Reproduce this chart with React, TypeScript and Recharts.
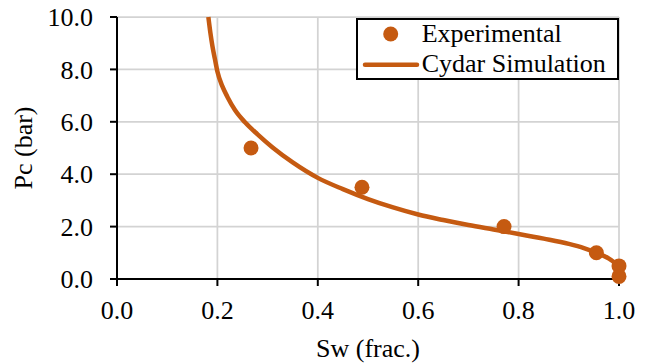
import React from 'react';
import {
  ComposedChart,
  Line,
  Scatter,
  XAxis,
  YAxis,
  CartesianGrid,
  Legend,
} from 'recharts';

const expSw = [0.267, 0.488, 0.771, 0.955, 1.0, 1.0];
const expPc = [5.0, 3.5, 2.0, 1.0, 0.5, 0.1];

const simSw = [
  0.182, 0.186, 0.19, 0.195, 0.2, 0.21, 0.22, 0.235, 0.255, 0.28, 0.31, 0.35, 0.4, 0.45,
  0.5, 0.55, 0.6, 0.65, 0.7, 0.75, 0.8, 0.85, 0.9, 0.93, 0.955, 0.98, 1.0,
];
const simPc = [
  10, 9.4, 8.9, 8.4, 7.92, 7.35, 6.95, 6.45, 5.98, 5.52, 5.02, 4.45, 3.86, 3.43,
  3.05, 2.73, 2.46, 2.25, 2.06, 1.89, 1.72, 1.54, 1.34, 1.18, 1.0, 0.78, 0.5,
];

const xTicks = [0, 0.2, 0.4, 0.6, 0.8, 1.0];
const yTicks = [0, 2, 4, 6, 8, 10];

const expData = expSw.map((sw, i) => ({ sw, pc: expPc[i] }));
const simData = simSw.map((sw, i) => ({ sw, pc: simPc[i] }));

const COLOR = '#C55A11';
const FONT = '"Liberation Serif", "Times New Roman", serif';
const FS = 26;

const Dot = (props: any) => {
  const { cx, cy } = props;
  if (cx == null || cy == null) return null;
  return <circle cx={cx} cy={cy} r={7.5} fill={COLOR} />;
};

const renderLegend = () => (
  <svg width={263} height={62} style={{ display: 'block' }}>
    <rect x={1} y={1} width={261} height={60} fill="#fff" stroke="#000" strokeWidth={2} />
    <circle cx={34.7} cy={16} r={7.5} fill={COLOR} />
    <text x={65.7} y={23.7} fontFamily={FONT} fontSize={FS} fill="#000">Experimental</text>
    <line x1={9} y1={46.7} x2={61} y2={46.7} stroke={COLOR} strokeWidth={4.5} strokeLinecap="round" />
    <text x={65.7} y={53.7} fontFamily={FONT} fontSize={FS} fill="#000">Cydar Simulation</text>
  </svg>
);

export default function App() {
  return (
    <div style={{ position: 'absolute', left: 0, top: 0, width: 651, height: 363, background: '#fff' }}>
      <ComposedChart
        width={651}
        height={363}
        margin={{ top: 17, right: 32, bottom: 0, left: 0 }}
      >
        <CartesianGrid stroke="#D3D3D3" strokeWidth={1.75} horizontal vertical />
        <XAxis
          dataKey="sw"
          type="number"
          domain={[0, 1]}
          ticks={xTicks}
          tickFormatter={(v: number) => v.toFixed(1)}
          height={84}
          tickSize={7}
          tickMargin={15}
          stroke="#000"
          strokeWidth={2}
          tick={{ fill: '#000', fontSize: FS, fontFamily: FONT }}
          label={{
            content: (p: any) => {
              const vb = p.viewBox || {};
              return (
                <text
                  x={(vb.x ?? 117) + (vb.width ?? 502) / 2}
                  y={357}
                  textAnchor="middle"
                  fontFamily={FONT}
                  fontSize={FS}
                  fill="#000"
                >
                  Sw (frac.)
                </text>
              );
            },
          }}
        />
        <XAxis
          xAxisId="top"
          orientation="top"
          type="number"
          domain={[0, 1]}
          height={0}
          tick={false}
          tickLine={false}
          stroke="#000"
          strokeWidth={2}
        />
        <YAxis
          dataKey="pc"
          type="number"
          domain={[0, 10]}
          ticks={yTicks}
          tickFormatter={(v: number) => v.toFixed(1)}
          width={117}
          tickSize={7}
          tickMargin={17}
          stroke="#000"
          strokeWidth={2}
          tick={{ fill: '#000', fontSize: FS, fontFamily: FONT }}
          label={{
            content: (p: any) => {
              const vb = p.viewBox || {};
              const cy = (vb.y ?? 17) + (vb.height ?? 262) / 2;
              return (
                <text
                  x={32}
                  y={cy}
                  transform={`rotate(-90, 32, ${cy})`}
                  textAnchor="middle"
                  fontFamily={FONT}
                  fontSize={FS}
                  fill="#000"
                >
                  Pc (bar)
                </text>
              );
            },
          }}
        />
        <YAxis
          yAxisId="right"
          orientation="right"
          type="number"
          domain={[0, 10]}
          width={0}
          tick={false}
          tickLine={false}
          stroke="#000"
          strokeWidth={2}
        />
        <Line
          data={simData}
          dataKey="pc"
          type="monotone"
          stroke={COLOR}
          strokeWidth={4.5}
          dot={false}
          activeDot={false}
          isAnimationActive={false}
        />
        <Scatter
          data={expData}
          dataKey="pc"
          fill={COLOR}
          shape={Dot}
          isAnimationActive={false}
        />
        <Legend
          layout="horizontal"
          verticalAlign="middle"
          align="center"
          content={renderLegend}
          wrapperStyle={{ position: 'absolute', left: 356, top: 18, width: 263, height: 62 }}
        />
      </ComposedChart>
    </div>
  );
}
